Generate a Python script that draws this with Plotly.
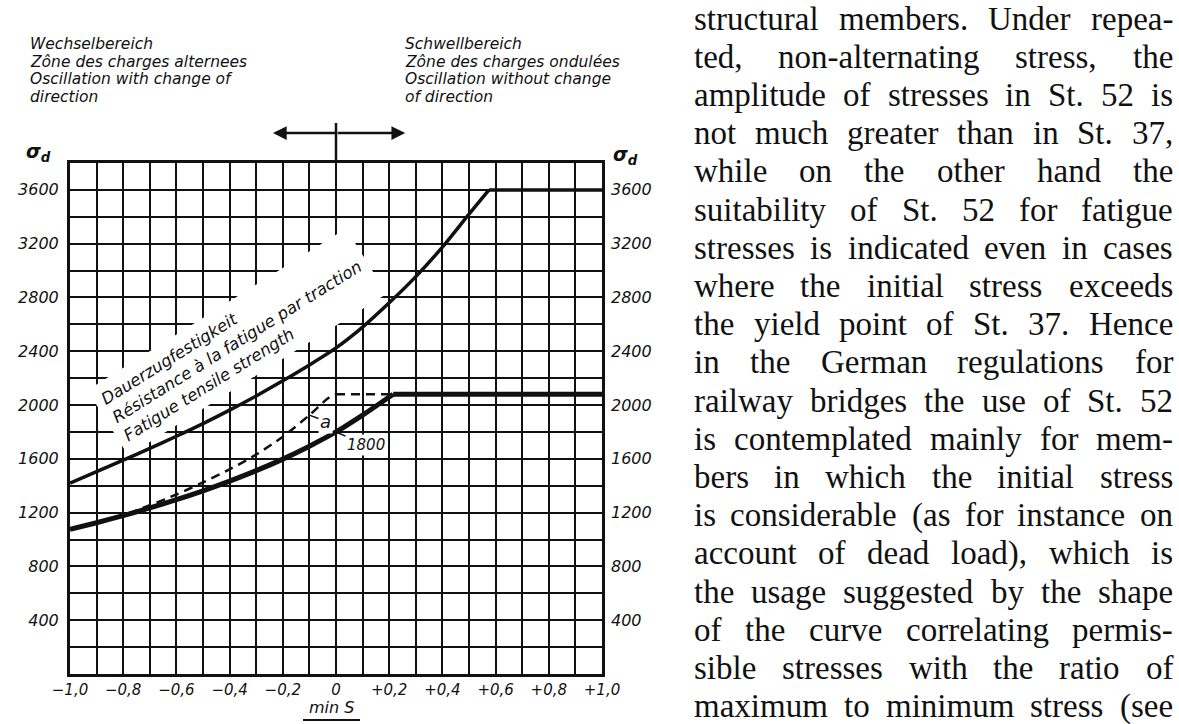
import plotly.graph_objects as go

# ---------------- data ----------------
x_tick_vals = [-1.0, -0.9, -0.8, -0.7, -0.6, -0.5, -0.4, -0.3, -0.2, -0.1, 0.0,
               0.1, 0.2, 0.3, 0.4, 0.5, 0.6, 0.7, 0.8, 0.9, 1.0]
x_tick_text = ["−1,0", "", "−0,8", "", "−0,6", "", "−0,4", "", "−0,2", "", "0",
               "", "+0,2", "", "+0,4", "", "+0,6", "", "+0,8", "", "+1,0"]
y_tick_vals = [0, 200, 400, 600, 800, 1000, 1200, 1400, 1600, 1800, 2000,
               2200, 2400, 2600, 2800, 3000, 3200, 3400, 3600, 3800]
y_tick_text = ["", "", "400", "", "800", "", "1200", "", "1600", "", "2000",
               "", "2400", "", "2800", "", "3200", "", "3600", ""]

# Fatigue tensile strength (upper curve) and its plateau
upper_x = [-1.0, -0.9, -0.8, -0.7, -0.6, -0.5, -0.4, -0.3, -0.2, -0.1, 0.0,
           0.1, 0.2, 0.3, 0.4, 0.5, 0.575]
upper_y = [1420, 1505, 1590, 1678, 1768, 1862, 1962, 2068, 2180, 2298, 2425,
           2580, 2760, 2955, 3175, 3420, 3600]
upper_plateau_x = [0.575, 1.0]
upper_plateau_y = [3600, 3600]

# Permissible stress (thick lower curve) and its plateau
lower_x = [-1.0, -0.9, -0.8, -0.7, -0.6, -0.5, -0.4, -0.3, -0.2, -0.1, 0.0, 0.1, 0.215]
lower_y = [1075, 1125, 1178, 1235, 1296, 1362, 1434, 1512, 1598, 1694, 1800, 1925, 2080]
lower_plateau_x = [0.215, 1.0]
lower_plateau_y = [2080, 2080]

# Dashed curve "a"
dashed_x = [-0.78, -0.7, -0.6, -0.5, -0.4, -0.3, -0.2, -0.1, -0.03, 0.0]
dashed_y = [1195, 1255, 1335, 1425, 1522, 1632, 1765, 1925, 2050, 2080]
dashed_plateau_x = [0.0, 0.215]
dashed_plateau_y = [2080, 2080]

left_zone = ["Wechselbereich", "Zône des charges alternees",
             "Oscillation with change of", "direction"]
right_zone = ["Schwellbereich", "Zône des charges ondulées",
              "Oscillation without change", "of direction"]
curve_label = ["Dauerzugfestigkeit", "Résistance à la fatigue par traction",
               "Fatigue tensile strength"]

body_lines = [
    "structural members. Under repea-",
    "ted, non-alternating stress, the",
    "amplitude of stresses in St. 52 is",
    "not much greater than in St. 37,",
    "while on the other hand the",
    "suitability of St. 52 for fatigue",
    "stresses is indicated even in cases",
    "where the initial stress exceeds",
    "the yield point of St. 37. Hence",
    "in the German regulations for",
    "railway bridges the use of St. 52",
    "is contemplated mainly for mem-",
    "bers in which the initial stress",
    "is considerable (as for instance on",
    "account of dead load), which is",
    "the usage suggested by the shape",
    "of the curve correlating permis-",
    "sible stresses with the ratio of",
    "maximum to minimum stress (see",
]

# ---------------- layout helpers ----------------
W, H = 1179, 724
PL, PR, PT, PB = 70, 602, 163, 674   # plot area in page pixels


def px_x(px):
    return (px - PL) / (PR - PL)


def px_y(py):
    return (PB - py) / (PB - PT)


INK = "#111111"
FONT = "DejaVu Sans"
TICK_Y = dict(family=FONT, size=16, color=INK, style="italic")
TICK_X = dict(family=FONT, size=15, color=INK, style="italic")

fig = go.Figure()

fig.add_trace(go.Scatter(x=upper_x, y=upper_y, mode="lines",
                         line=dict(color=INK, width=3.5, shape="spline", smoothing=0.8)))
fig.add_trace(go.Scatter(x=upper_plateau_x, y=upper_plateau_y, mode="lines",
                         line=dict(color=INK, width=3.5)))
fig.add_trace(go.Scatter(x=dashed_x, y=dashed_y, mode="lines",
                         line=dict(color=INK, width=2.5, dash="9px,6px", shape="spline", smoothing=0.8)))
fig.add_trace(go.Scatter(x=dashed_plateau_x, y=dashed_plateau_y, mode="lines",
                         line=dict(color=INK, width=2.5, dash="9px,6px")))
fig.add_trace(go.Scatter(x=lower_x, y=lower_y, mode="lines",
                         line=dict(color=INK, width=5, shape="spline", smoothing=0.8)))
fig.add_trace(go.Scatter(x=lower_plateau_x, y=lower_plateau_y, mode="lines",
                         line=dict(color=INK, width=5)))
# right axis carrier
fig.add_trace(go.Scatter(x=[None], y=[None], yaxis="y2", showlegend=False))

annotations = []

# zone texts above the chart
ZONE = dict(family=FONT, size=15.5, color=INK, style="italic")
for i, (a, b) in enumerate(zip(left_zone, right_zone)):
    yc = [44.5, 62, 79.5, 97][i]
    annotations.append(dict(text=a, xref="paper", yref="paper", x=px_x(30), y=px_y(yc),
                            xanchor="left", yanchor="middle", showarrow=False, font=ZONE,
                            borderpad=0, borderwidth=0))
    annotations.append(dict(text=b, xref="paper", yref="paper", x=px_x(405), y=px_y(yc),
                            xanchor="left", yanchor="middle", showarrow=False, font=ZONE,
                            borderpad=0, borderwidth=0))

# sigma_d labels
SIG = dict(family=FONT, size=19, color=INK, style="italic", weight="bold")
annotations.append(dict(text="σ<sub>d</sub>", xref="paper", yref="paper", x=px_x(24),
                        y=px_y(153), xanchor="left", yanchor="middle", showarrow=False, font=SIG))
annotations.append(dict(text="σ<sub>d</sub>", xref="paper", yref="paper", x=px_x(611),
                        y=px_y(155), xanchor="left", yanchor="middle", showarrow=False, font=SIG))

# double arrow above the chart
for head_x, tail_px in [(-0.237, 64), (0.26, -69)]:
    annotations.append(dict(text="", x=head_x, xref="x", y=px_y(133), yref="paper",
                            ax=tail_px, ay=0, showarrow=True, arrowhead=2, arrowsize=1.1,
                            arrowwidth=2.5, arrowcolor=INK))

# rotated curve label
annotations.append(dict(text="<br>".join(curve_label), x=-0.372, y=2470, xref="x", yref="y",
                        textangle=-32, align="left", showarrow=False, bgcolor="white",
                        borderpad=7, font=dict(family=FONT, size=16.5, color=INK,
                                               style="italic")))

# "a" label
annotations.append(dict(text="a", x=-0.1, y=1925, xref="x", yref="y", ax=16, ay=6,
                        showarrow=True, arrowhead=0, arrowwidth=1.5, arrowcolor=INK,
                        bgcolor="white", font=dict(family=FONT, size=18, color=INK,
                                                   style="italic")))
# "1800" label
annotations.append(dict(text="1800", x=0.0, y=1800, xref="x", yref="y", ax=30, ay=13,
                        showarrow=True, arrowhead=0, arrowwidth=1.5, arrowcolor=INK,
                        bgcolor="white", font=dict(family=FONT, size=15, color=INK,
                                                   style="italic")))

# x-axis title
annotations.append(dict(text="min S", xref="paper", yref="paper", x=px_x(331), y=px_y(707),
                        xanchor="center", yanchor="middle", showarrow=False,
                        font=dict(family=FONT, size=16, color=INK, style="italic")))

# ---------------- justified body text ----------------
TW = {" ": 250, "(": 333, ")": 333, ",": 250, "-": 333, ".": 250, "2": 500, "3": 500,
      "5": 500, "7": 500, "G": 722, "H": 722, "S": 556, "U": 722,
      "a": 444, "b": 500, "c": 444, "d": 500, "e": 444, "f": 333, "g": 500, "h": 500,
      "i": 278, "j": 278, "k": 500, "l": 278, "m": 778, "n": 500, "o": 500, "p": 500,
      "q": 500, "r": 333, "s": 389, "t": 278, "u": 500, "v": 500, "w": 722, "x": 500,
      "y": 500, "z": 444}
FS = 33
TX0, TX1 = 694, 1173
BODY = dict(family="Liberation Serif", size=FS, color=INK)
for i, line in enumerate(body_lines):
    words = line.split(" ")
    widths = [sum(TW.get(c, 500) for c in w) * FS / 1000 for w in words]
    gap = (TX1 - TX0 - sum(widths)) / (len(words) - 1)
    xcur = TX0
    yc = 18.5 + i * 38.2
    for w, wd in zip(words, widths):
        annotations.append(dict(text=w, xref="paper", yref="paper", x=px_x(xcur), y=px_y(yc),
                                xanchor="left", yanchor="middle", showarrow=False,
                                borderpad=0, borderwidth=0, font=BODY))
        xcur += wd + gap

shapes = [
    dict(type="line", xref="x", yref="paper", x0=0, x1=0, y0=1.0, y1=px_y(123),
         line=dict(color=INK, width=2.5)),
    dict(type="line", xref="paper", yref="paper", x0=px_x(303), x1=px_x(360),
         y0=px_y(720), y1=px_y(720), line=dict(color=INK, width=2)),
]

axis_common = dict(showline=True, linecolor=INK, linewidth=3, mirror=True, ticks="",
                   zeroline=False, gridcolor=INK, gridwidth=2)

fig.update_layout(
    width=W, height=H, autosize=False,
    margin=dict(l=PL, r=W - PR, t=PT, b=H - PB, pad=0),
    paper_bgcolor="white", plot_bgcolor="white", showlegend=False,
    xaxis=dict(range=[-1, 1], tickmode="array", tickvals=x_tick_vals, ticktext=x_tick_text,
               showgrid=True, tickfont=TICK_X, ticklabelstandoff=0, **axis_common),
    yaxis=dict(range=[0, 3800], tickmode="array", tickvals=y_tick_vals, ticktext=y_tick_text,
               showgrid=True, tickfont=TICK_Y, ticklabelstandoff=5, **axis_common),
    yaxis2=dict(range=[0, 3800], tickmode="array", tickvals=y_tick_vals, ticktext=y_tick_text,
                overlaying="y", side="right", showgrid=False, showline=False, ticks="",
                zeroline=False, tickfont=TICK_Y, ticklabelstandoff=8),
    annotations=annotations,
    shapes=shapes,
)

fig.write_html("out.html", config={"displayModeBar": False},
               post_script="document.body.style.margin='0';document.body.style.padding='0';"
                           "document.body.style.overflow='hidden';")
